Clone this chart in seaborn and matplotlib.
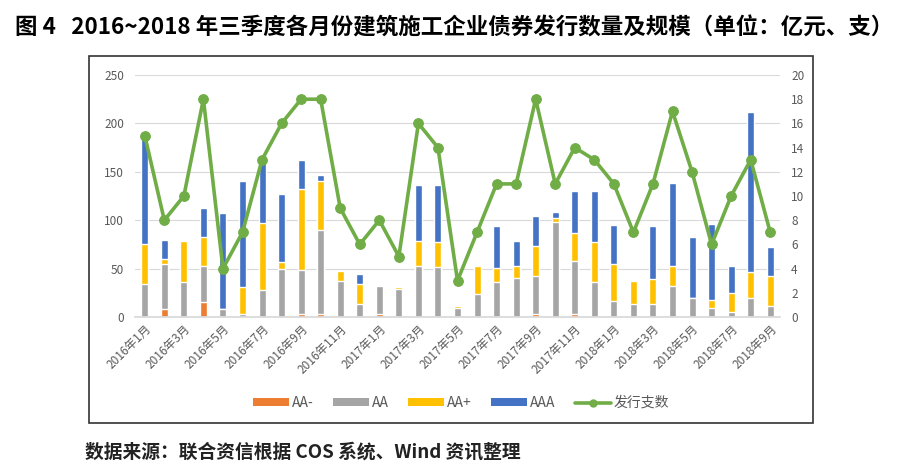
import numpy as np
import pandas as pd
import matplotlib
matplotlib.use("Agg")
import matplotlib.pyplot as plt
import seaborn as sns
from matplotlib.patches import Rectangle, Patch
from matplotlib.lines import Line2D

months = [f"{y}年{m}月" for y in (2016, 2017, 2018) for m in range(1, 13)][:33]
aa_minus = [0, 8, 0, 16, 0, 0, 0, 0, 3, 3, 0, 0, 3, 0, 0, 0, 0, 0, 0, 0, 3, 0, 3, 0, 0, 0, 0, 0, 0, 0, 0, 0, 0]
aa = [34, 47, 36, 37, 8, 3, 28, 50, 46, 87, 37, 13, 29, 29, 53, 52, 9, 24, 36, 40, 39, 98, 55, 36, 17, 13, 13, 32, 20, 9, 5, 20, 11]
aa_plus = [41, 5, 42, 30, 0, 28, 69, 7, 83, 51, 11, 21, 0, 2, 26, 25, 2, 29, 15, 13, 31, 4, 29, 41, 38, 24, 26, 21, 0, 9, 20, 27, 31]
aaa = [112, 20, 0, 30, 99, 110, 66, 70, 30, 6, 0, 10, 0, 0, 57, 59, 0, 0, 43, 25, 31, 6, 43, 53, 40, 0, 55, 85, 63, 78, 28, 165, 30]
count = [15, 8, 10, 18, 4, 7, 13, 16, 18, 18, 9, 6, 8, 5, 16, 14, 3, 7, 11, 11, 18, 11, 14, 13, 11, 7, 11, 17, 12, 6, 10, 13, 7]
series_names = ["AA-", "AA", "AA+", "AAA"]
line_name = "发行支数"
colors = {"AA-": "#ED7D31", "AA": "#A5A5A5", "AA+": "#FFC000", "AAA": "#4472C4"}
line_color = "#70AD47"

sns.set_theme(style="white")
plt.rcParams['font.family'] = ['Noto Sans CJK SC', 'DejaVu Sans']

df = pd.DataFrame({"month": months, "AA-": aa_minus, "AA": aa, "AA+": aa_plus, "AAA": aaa, "count": count})
df["c_aa_minus"] = df["AA-"]
df["c_aa"] = df["c_aa_minus"] + df["AA"]
df["c_aa_plus"] = df["c_aa"] + df["AA+"]
df["c_aaa"] = df["c_aa_plus"] + df["AAA"]

fig = plt.figure(figsize=(8.98, 4.74), dpi=100)
ax = fig.add_axes([135/898, 1-317/474, 645/898, 242/474])

# outer frame
fig.patches.append(Rectangle((89/898, 1-423/474), (813-89)/898, (423-56)/474,
                             transform=fig.transFigure, fill=False, edgecolor="#333333", lw=1.2))

gray_txt = "#595959"
ax.set_axisbelow(True)
for col, name in [("c_aaa", "AAA"), ("c_aa_plus", "AA+"), ("c_aa", "AA"), ("c_aa_minus", "AA-")]:
    sns.barplot(data=df, x="month", y=col, color=colors[name], saturation=1, width=0.36,
                ax=ax, order=months, errorbar=None, zorder=2)

ax.set_ylim(0, 250)
ax.set_xlim(-0.5, 32.5)
ax.set_yticks(range(0, 251, 50))
ax.yaxis.grid(True, color="#D9D9D9", lw=0.8)
ax.xaxis.grid(False)
for s in ["top", "right", "left"]:
    ax.spines[s].set_visible(False)
ax.spines["bottom"].set_color("#D9D9D9")
ax.set_xlabel("")
ax.set_ylabel("")
ax.tick_params(axis="y", colors=gray_txt, labelsize=8.5, length=0, pad=8)
ax.set_xticks(range(0, 33, 2))
ax.set_xticklabels([months[i] for i in range(0, 33, 2)], rotation=45, ha="right",
                   rotation_mode="anchor", fontsize=8.5, color=gray_txt)
ax.tick_params(axis="x", length=0, pad=4)

ax2 = ax.twinx()
sns.lineplot(x=np.arange(33), y=df["count"], ax=ax2, color=line_color, lw=2.6,
             marker="o", markersize=7, markeredgecolor=line_color, zorder=5)
ax2.set_ylim(0, 20)
ax2.set_yticks(range(0, 21, 2))
ax2.set_ylabel("")
for s in ["top", "right", "left", "bottom"]:
    ax2.spines[s].set_visible(False)
ax2.tick_params(axis="y", colors=gray_txt, labelsize=8.5, length=0, pad=8)
ax2.grid(False)

handles = [Patch(facecolor=colors[n], edgecolor="none") for n in series_names]
handles.append(Line2D([0], [0], color=line_color, lw=2.6, marker="o", markersize=5))
leg = fig.legend(handles, series_names + [line_name], loc="center", bbox_to_anchor=(461/898, 1-403/474),
                 ncol=5, frameon=False, fontsize=10, handlelength=2.6, handleheight=0.45,
                 columnspacing=1.4, handletextpad=0.2, labelcolor=gray_txt)

fig.text(15/898, 1-28/474, "图 4   2016~2018 年三季度各月份建筑施工企业债券发行数量及规模（单位：亿元、支）",
         fontsize=16.2, fontweight="bold", color="black", va="center", ha="left")
fig.text(85/898, 1-452/474, "数据来源：联合资信根据 COS 系统、Wind 资讯整理",
         fontsize=13.5, fontweight="bold", color="#222222", va="center", ha="left")

fig.savefig("out.png", dpi=100, facecolor="white")
